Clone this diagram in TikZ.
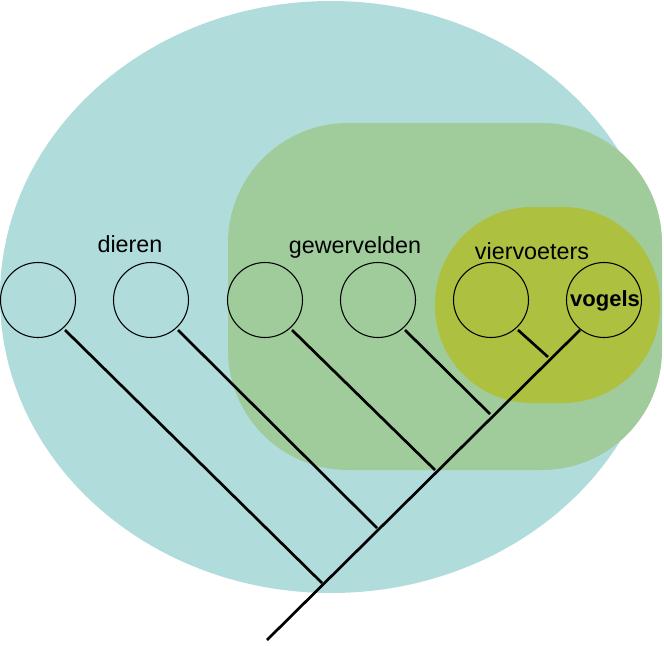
\documentclass[tikz,border=0pt]{standalone}
\usepackage{fontspec}
\setmainfont{Liberation Sans}
\begin{document}
\begin{tikzpicture}[x=0.75pt,y=-0.75pt,
  leaf/.style={draw=black,circle,minimum size=56.25pt,inner sep=0pt,line width=0.8pt},
  branch/.style={line width=2pt},
  lbl/.style={font=\fontsize{17.5}{20}\selectfont}]
\useasboundingbox (0,0) rectangle (664,646);
\definecolor{teal1}{HTML}{B0DCDC}
\definecolor{green1}{HTML}{A0CC9C}
\definecolor{olive1}{HTML}{AEC040}
\fill[teal1] (331,297) ellipse [x radius=331, y radius=296];
\fill[green1,rounded corners=120*0.75pt] (228,123) rectangle (662,470);
\fill[olive1,rounded corners=97*0.75pt] (435,207) rectangle (660,403);
\foreach \i/\x in {1/38,2/151,3/265,4/378,5/491,6/604}
  \node[leaf] (c\i) at (\x,300) {};
\coordinate (root) at (267,640);
\coordinate (b1) at (322,583);
\coordinate (b2) at (377,528);
\coordinate (b3) at (435,470);
\coordinate (b4) at (490,414);
\coordinate (b5) at (548,357);
\coordinate (t6) at (580,330);
\coordinate (t1) at (65,330);
\coordinate (t2) at (178,330);
\coordinate (t3) at (292,330);
\coordinate (t4) at (405,330);
\coordinate (t5) at (518,330);
\draw[branch] (root) -- (t6);
\draw[branch] (b1) -- (t1);
\draw[branch] (b2) -- (t2);
\draw[branch] (b3) -- (t3);
\draw[branch] (b4) -- (t4);
\draw[branch] (b5) -- (t5);
\node[lbl] (l1) at (130,244) {dieren};
\node[lbl] (l2) at (355,247) {gewervelden};
\node[lbl] (l3) at (532,251) {viervoeters};
\node[font=\fontsize{16.5}{20}\selectfont\bfseries] (l4) at (605,301) {vogels};
\end{tikzpicture}
\end{document}
